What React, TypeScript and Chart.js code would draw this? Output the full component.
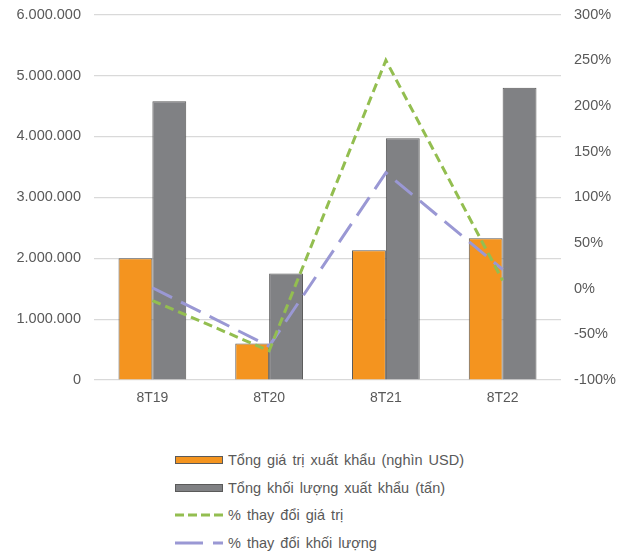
import React, { useEffect, useRef } from "react";
import { Chart, registerables } from "chart.js";

Chart.register(...registerables);

const categories = ["8T19", "8T20", "8T21", "8T22"];
const exportValue = [2000000, 600000, 2130000, 2330000];
const exportVolume = [4580000, 1750000, 3970000, 4800000];
const valueChange = [-13, -68, 250, 9];
const volumeChange = [1, -63, 127, 21];
const seriesNames = [
  "Tổng giá trị xuất khẩu (nghìn USD)",
  "Tổng khối lượng xuất khẩu (tấn)",
  "% thay đổi giá trị",
  "% thay đổi khối lượng",
];
const leftTicks = { min: 0, max: 6000000, step: 1000000 };
const rightTicks = { min: -100, max: 300, step: 50 };

const ORANGE = "#F4941F";
const GRAY = "#808184";
const BORDER = "#5A5A5A";
const GREEN = "#93BE50";
const PURPLE = "#9A98D4";
const TEXT = "#595959";
const FONT = "'Liberation Sans', Arial, sans-serif";

const fmtDots = (v: number) => String(Math.round(v)).replace(/\B(?=(\d{3})+(?!\d))/g, ".");

export default function App() {
  const ref = useRef<HTMLCanvasElement | null>(null);

  useEffect(() => {
    if (!ref.current) return;
    const chart = new Chart(ref.current, {
      type: "bar",
      data: {
        labels: categories,
        datasets: [
          {
            type: "line",
            label: seriesNames[2],
            data: valueChange,
            yAxisID: "y1",
            borderColor: GREEN,
            borderWidth: 3,
            borderDash: [9, 5],
            pointRadius: 0,
            tension: 0,
            fill: false,
            order: 0,
          },
          {
            type: "line",
            label: seriesNames[3],
            data: volumeChange,
            yAxisID: "y1",
            borderColor: PURPLE,
            borderWidth: 3,
            borderDash: [22, 10],
            pointRadius: 0,
            tension: 0,
            fill: false,
            order: 0,
          },
          {
            type: "bar",
            label: seriesNames[0],
            data: exportValue,
            yAxisID: "y",
            backgroundColor: ORANGE,
            borderColor: BORDER,
            borderWidth: 1,
            barPercentage: 1,
            categoryPercentage: 0.58,
            order: 1,
          },
          {
            type: "bar",
            label: seriesNames[1],
            data: exportVolume,
            yAxisID: "y",
            backgroundColor: GRAY,
            borderColor: BORDER,
            borderWidth: 1,
            barPercentage: 1,
            categoryPercentage: 0.58,
            order: 1,
          },
        ] as any,
      },
      options: {
        responsive: false,
        animation: false,
        layout: { padding: { top: 6, bottom: 0, left: 0, right: 0 } },
        plugins: { legend: { display: false }, tooltip: { enabled: false } },
        scales: {
          x: {
            grid: { display: false, drawTicks: false },
            border: { display: false },
            ticks: { color: TEXT, font: { family: FONT, size: 14 }, padding: 10 },
            afterFit: (s: any) => {
              s.height = 40;
            },
          },
          y: {
            position: "left",
            min: leftTicks.min,
            max: leftTicks.max,
            grid: { color: "#D9D9D9", lineWidth: 1.2, drawTicks: false },
            border: { display: false },
            ticks: {
              stepSize: leftTicks.step,
              color: TEXT,
              font: { family: FONT, size: 14.5 },
              padding: 13,
              callback: (v: any) => fmtDots(Number(v)),
            },
            afterFit: (s: any) => {
              s.width = 94;
            },
          },
          y1: {
            position: "right",
            min: rightTicks.min,
            max: rightTicks.max,
            grid: { display: false, drawTicks: false },
            border: { display: false },
            ticks: {
              stepSize: rightTicks.step,
              color: TEXT,
              font: { family: FONT, size: 14.5 },
              padding: 13,
              callback: (v: any) => `${v}%`,
            },
            afterFit: (s: any) => {
              s.width = 69;
            },
          },
        },
      } as any,
    });
    return () => chart.destroy();
  }, []);

  const legendItems = [
    { name: seriesNames[0], kind: "box", color: ORANGE },
    { name: seriesNames[1], kind: "box", color: GRAY },
    { name: seriesNames[2], kind: "line", color: GREEN, dash: "9 4" },
    { name: seriesNames[3], kind: "line", color: PURPLE, dash: "28 10" },
  ];

  return (
    <div style={{ position: "fixed", left: 0, top: 0, width: 630, height: 556, background: "#fff", overflow: "hidden" }}>
      <canvas
        ref={ref}
        width={630}
        height={427}
        style={{ display: "block", position: "absolute", left: 0, top: -7 }}
      />
      <div style={{ position: "absolute", left: 175, top: 446, fontFamily: FONT, fontSize: 14.5, wordSpacing: 2, color: TEXT }}>
        {legendItems.map((it, i) => (
          <div key={i} style={{ display: "flex", alignItems: "center", height: 27.7 }}>
            <svg width={49} height={10} style={{ marginRight: 4, flex: "none" }}>
              {it.kind === "box" ? (
                <rect x={0.5} y={1.5} width={47} height={7} fill={it.color} stroke={BORDER} strokeWidth={1} />
              ) : (
                <line x1={0} y1={5} x2={48} y2={5} stroke={it.color} strokeWidth={3} strokeDasharray={it.dash} />
              )}
            </svg>
            <span style={{ whiteSpace: "nowrap" }}>{it.name}</span>
          </div>
        ))}
      </div>
    </div>
  );
}
